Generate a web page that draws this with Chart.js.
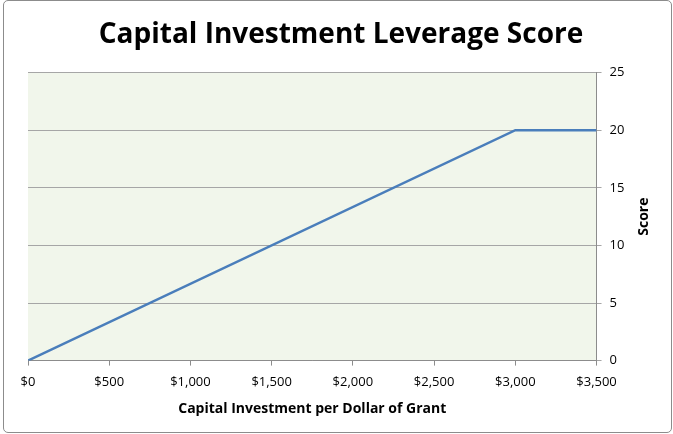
<!DOCTYPE html>
<html>
<head>
<meta charset="utf-8">
<script src="https://cdn.jsdelivr.net/npm/chart.js@4/dist/chart.umd.min.js"></script>
<style>
  body { margin: 0; background: #fff; }
  #frame {
    position: absolute; left: 3px; top: 0; width: 667px; height: 431px;
    border: 1px solid #8c8c8c; border-radius: 5px; overflow: hidden;
  }
  canvas { display: block; }
</style>
</head>
<body>
<div id="frame"><canvas id="c" width="667" height="431"></canvas></div>
<script>
// capital investment per dollar of grant -> score
const investment = [0, 3000, 3500];
const scores = [0, 20, 20];
const xTicks = [0, 500, 1000, 1500, 2000, 2500, 3000, 3500];
const yTicks = [0, 5, 10, 15, 20, 25];

const FONT = "'Open Sans', 'Liberation Sans', sans-serif";

const plotBg = {
    id: 'plotBg',
    beforeDraw(chart) {
        const { ctx, chartArea: a } = chart;
        ctx.save();
        ctx.fillStyle = '#f1f6eb';
        ctx.fillRect(a.left, a.top, a.right - a.left, a.bottom - a.top);
        ctx.restore();
    }
};

// Excel draws the right-hand axis title reading upwards
const yTitleUp = {
    id: 'yTitleUp',
    afterDraw(chart) {
        const s = chart.scales.y;
        const { ctx } = chart;
        ctx.save();
        ctx.translate(s.right - 10, (s.top + s.bottom) / 2);
        ctx.rotate(-Math.PI / 2);
        ctx.fillStyle = '#000';
        ctx.font = 'bold 14px ' + FONT;
        ctx.textAlign = 'center';
        ctx.textBaseline = 'middle';
        ctx.fillText('Score', 0, 0);
        ctx.restore();
    }
};

new Chart(document.getElementById('c').getContext('2d'), {
    type: 'line',
    data: {
        datasets: [{
            data: investment.map((x, i) => ({ x, y: scores[i] })),
            borderColor: '#4a7ebb',
            borderWidth: 2.5,
            pointRadius: 0,
            tension: 0,
            fill: false,
        }]
    },
    options: {
        responsive: false,
        animation: false,
        layout: { padding: { left: 24, right: 17, top: 9, bottom: 11 } },
        plugins: {
            legend: { display: false },
            tooltip: { enabled: false },
            title: {
                display: true,
                text: 'Capital Investment Leverage Score',
                color: '#000',
                font: { family: FONT, size: 28, weight: 'bold' },
                padding: { top: 8, bottom: 21 }
            }
        },
        scales: {
            x: {
                type: 'linear',
                min: xTicks[0],
                max: xTicks[xTicks.length - 1],
                afterBuildTicks: (s) => { s.ticks = xTicks.map(v => ({ value: v })); },
                grid: { drawOnChartArea: false, drawTicks: true, tickLength: 5, color: '#8c8c8c' },
                border: { color: '#8c8c8c' },
                ticks: {
                    color: '#000',
                    font: { family: FONT, size: 13 },
                    padding: 9,
                    maxRotation: 0,
                    callback: (v) => '$' + v.toLocaleString('en-US')
                },
                title: {
                    display: true,
                    text: 'Capital Investment per Dollar of Grant',
                    color: '#000',
                    font: { family: FONT, size: 14, weight: 'bold' },
                    padding: { top: 1 }
                }
            },
            y: {
                position: 'right',
                min: yTicks[0],
                max: yTicks[yTicks.length - 1],
                afterBuildTicks: (s) => { s.ticks = yTicks.map(v => ({ value: v })); },
                grid: { color: '#a6a6a6', drawTicks: true, tickLength: 5 },
                border: { color: '#8c8c8c' },
                ticks: {
                    color: '#000',
                    font: { family: FONT, size: 13 },
                    padding: 8
                },
                title: {
                    display: true,
                    text: 'Score',
                    color: 'rgba(0,0,0,0)',
                    font: { family: FONT, size: 13, weight: 'bold' },
                    padding: { top: 6, bottom: 0 }
                }
            }
        }
    },
    plugins: [plotBg, yTitleUp]
});
</script>
</body>
</html>
